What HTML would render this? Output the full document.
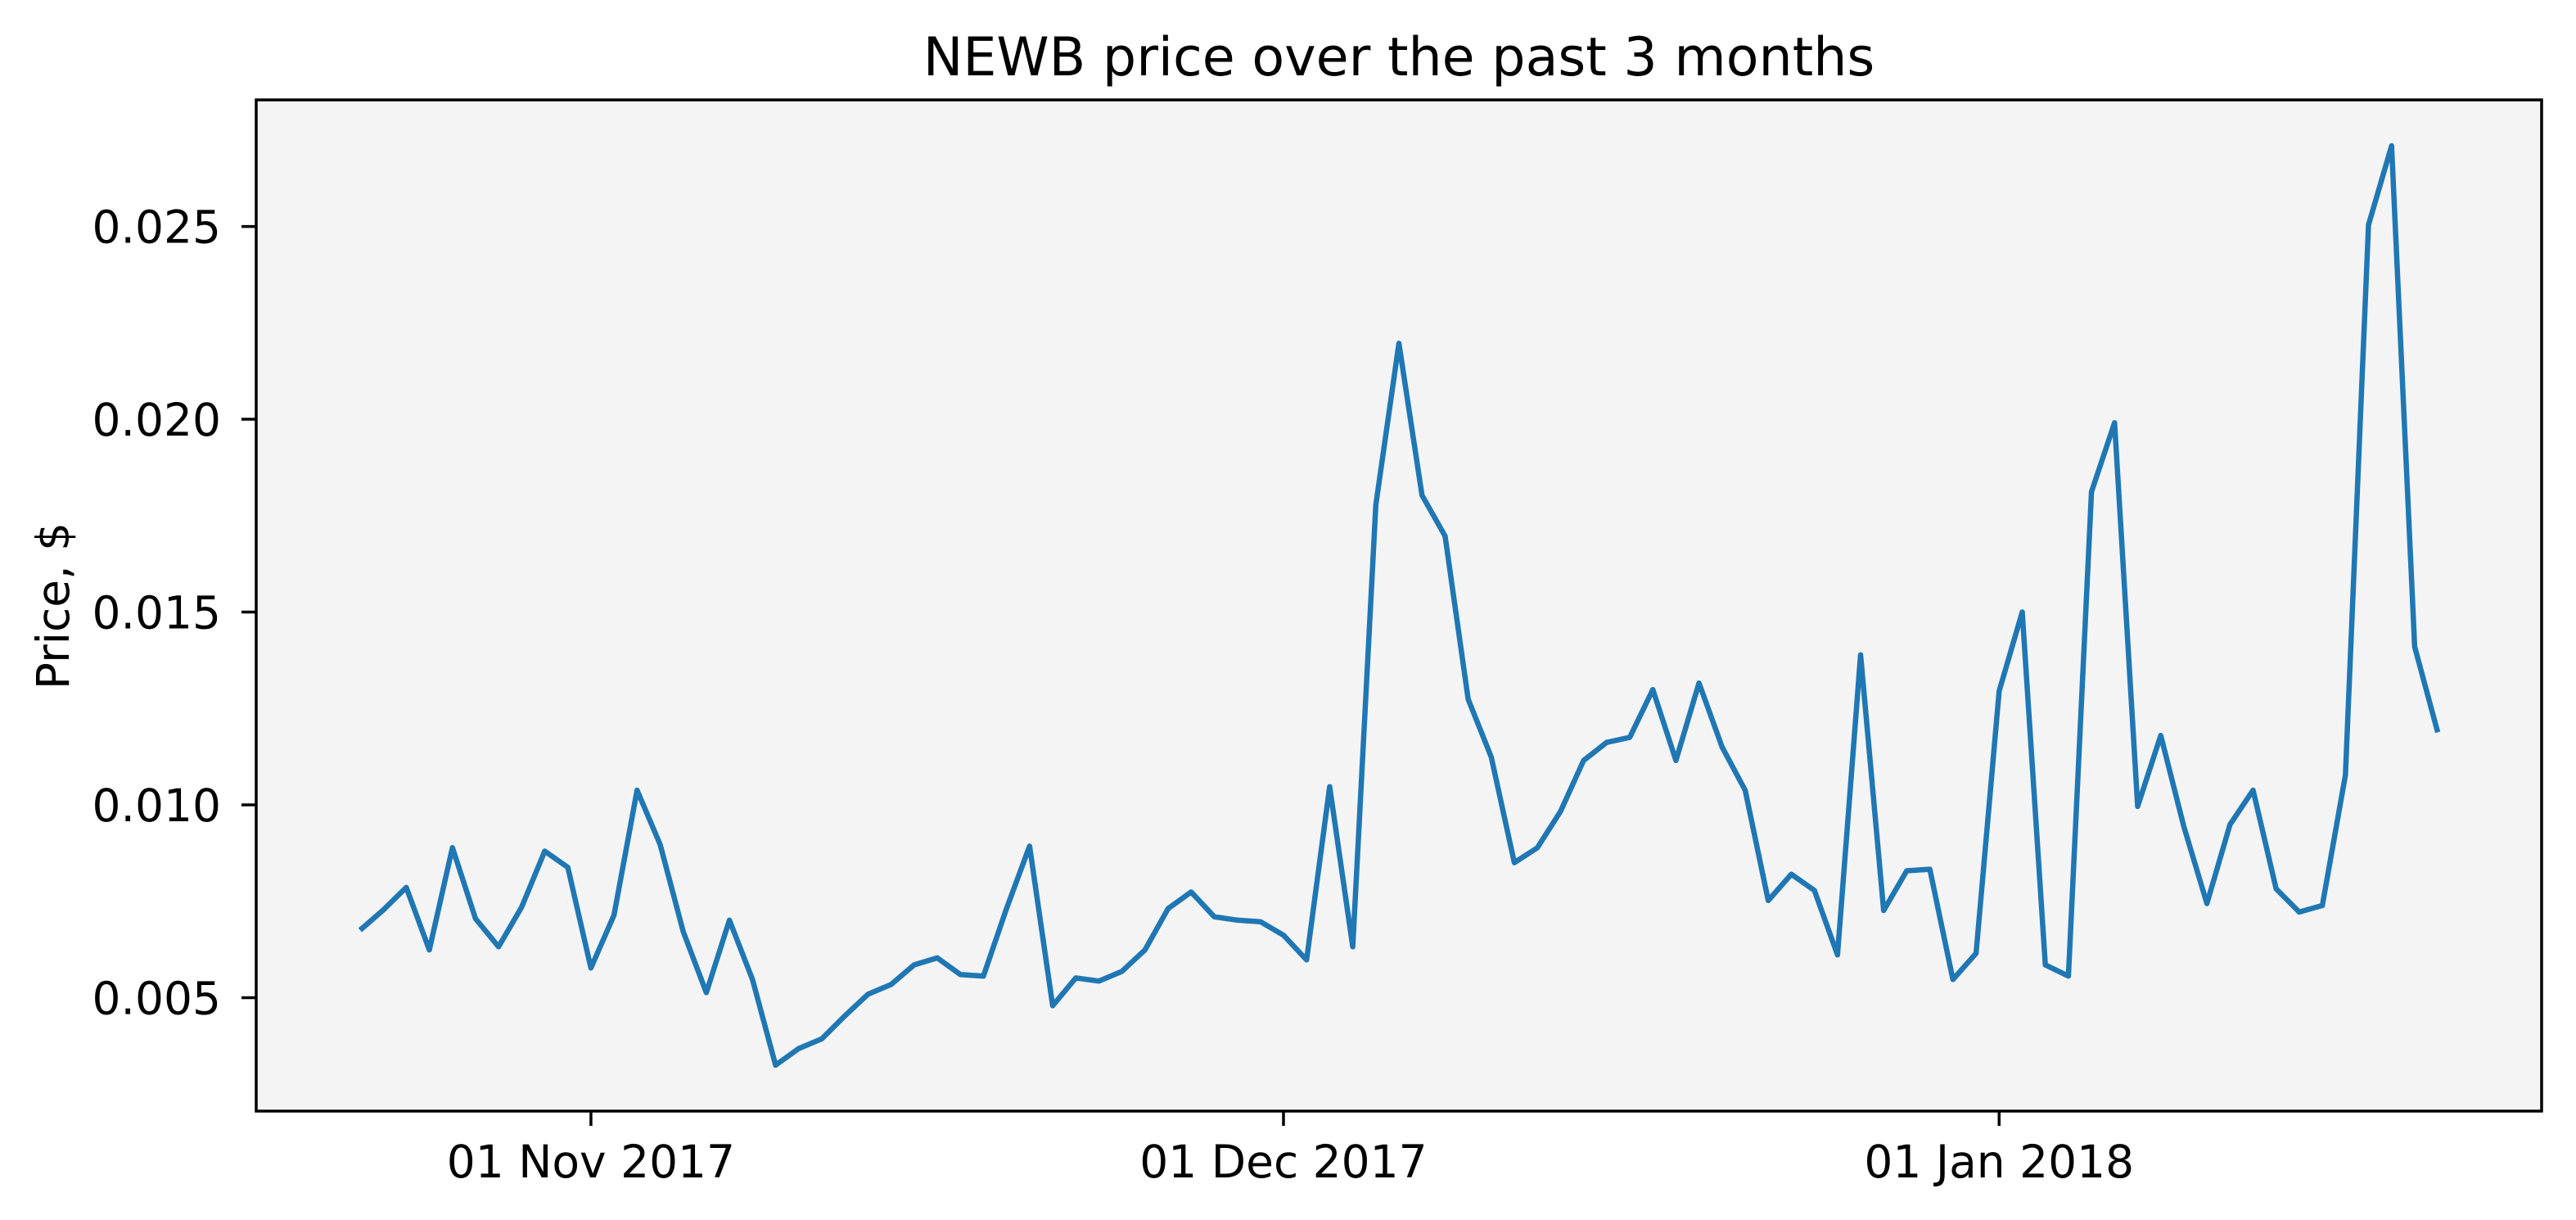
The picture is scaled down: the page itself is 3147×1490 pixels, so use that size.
<!DOCTYPE html>
<html><head><meta charset="utf-8">
<style>
html,body{margin:0;padding:0;background:#fff;}
svg{display:block;font-family:"DejaVu Sans","Liberation Sans",sans-serif;}
</style></head>
<body>
<svg id="chart" width="3147" height="1490" viewBox="0 0 3147 1490" xmlns="http://www.w3.org/2000/svg">
<rect x="0" y="0" width="3147" height="1490" fill="#ffffff"/>
<rect x="313" y="122" width="2792" height="1235" fill="#f4f4f4"/>
<g id="ticks"></g>
<polyline id="line" fill="none" stroke="#1f77b4" stroke-width="6.5" stroke-linejoin="round" stroke-linecap="butt"/>
<rect x="313" y="122" width="2792" height="1235" fill="none" stroke="#000" stroke-width="3.5"/>
<text x="1709" y="92" text-anchor="middle" font-size="65" fill="#000">NEWB price over the past 3 months</text>
<text transform="translate(84,740) rotate(-90)" text-anchor="middle" font-size="55" fill="#000">Price, $</text>
</svg>
<script>
const prices = [0.00675,0.00727,0.00786,0.00624,0.00889,0.00705,0.00632,0.00735,0.0088,0.00838,
0.00577,0.00714,0.01038,0.00897,0.00671,0.00513,0.00701,0.00547,0.00325,0.00368,
0.00393,0.00453,0.00509,0.00534,0.00585,0.00603,0.0056,0.00556,0.00731,0.00893,
0.00479,0.00551,0.00543,0.00568,0.00624,0.00731,0.00774,0.0071,0.00701,0.00697,
0.00662,0.00598,0.01047,0.00632,0.01778,0.02197,0.01803,0.01697,0.01274,0.01124,
0.0085,0.00889,0.00983,0.01115,0.01162,0.01175,0.01299,0.01115,0.01316,0.0115,
0.01038,0.00752,0.0082,0.00778,0.00611,0.01389,0.00726,0.00829,0.00833,0.00547,
0.00615,0.01295,0.015,0.00585,0.00556,0.01812,0.01991,0.00996,0.0118,0.00944,
0.00744,0.00949,0.01038,0.00782,0.00722,0.00739,0.01077,0.02504,0.02709,0.0141,0.01188];
const startDate = "2017-10-22";
const yTicks = [0.005,0.010,0.015,0.020,0.025];
const yTickLabels = ["0.005","0.010","0.015","0.020","0.025"];
const xTickDays = [10,40,71];
const xTickLabels = ["01 Nov 2017","01 Dec 2017","01 Jan 2018"];

const L=313,R=3105,T=122,B=1357;
const n=prices.length;
const xPad=(n-1)*0.05;
const x0=-xPad,x1=(n-1)+xPad;
const mn=Math.min(...prices),mx=Math.max(...prices);
const yPad=(mx-mn)*0.05;
const y0=mn-yPad,y1=mx+yPad;
function xs(d){return L+(d-x0)/(x1-x0)*(R-L);}
function ys(v){return B-(v-y0)/(y1-y0)*(B-T);}

const NS="http://www.w3.org/2000/svg";
const line=document.getElementById('line');
line.setAttribute('points',prices.map((v,i)=>xs(i).toFixed(1)+','+ys(v).toFixed(1)).join(' '));
const g=document.getElementById('ticks');
yTicks.forEach((v,i)=>{
  const y=ys(v);
  const t=document.createElementNS(NS,'line');
  t.setAttribute('x1',L-18);t.setAttribute('x2',L);t.setAttribute('y1',y);t.setAttribute('y2',y);
  t.setAttribute('stroke','#000');t.setAttribute('stroke-width','3.5');
  
  
  g.appendChild(t);
  const tx=document.createElementNS(NS,'text');
  tx.setAttribute('x',L-43);tx.setAttribute('y',y+20);tx.setAttribute('text-anchor','end');
  tx.setAttribute('font-size','55');tx.textContent=yTickLabels[i];
  
  
  g.appendChild(tx);
});
xTickDays.forEach((d,i)=>{
  const x=xs(d);
  const t=document.createElementNS(NS,'line');
  t.setAttribute('x1',x);t.setAttribute('x2',x);t.setAttribute('y1',B);t.setAttribute('y2',B+18);
  t.setAttribute('stroke','#000');t.setAttribute('stroke-width','3.5');
  
  
  g.appendChild(t);
  const tx=document.createElementNS(NS,'text');
  tx.setAttribute('x',x);tx.setAttribute('y',1438);tx.setAttribute('text-anchor','middle');
  tx.setAttribute('font-size','55');tx.textContent=xTickLabels[i];
  
  
  g.appendChild(tx);
});
</script>
</body></html>
